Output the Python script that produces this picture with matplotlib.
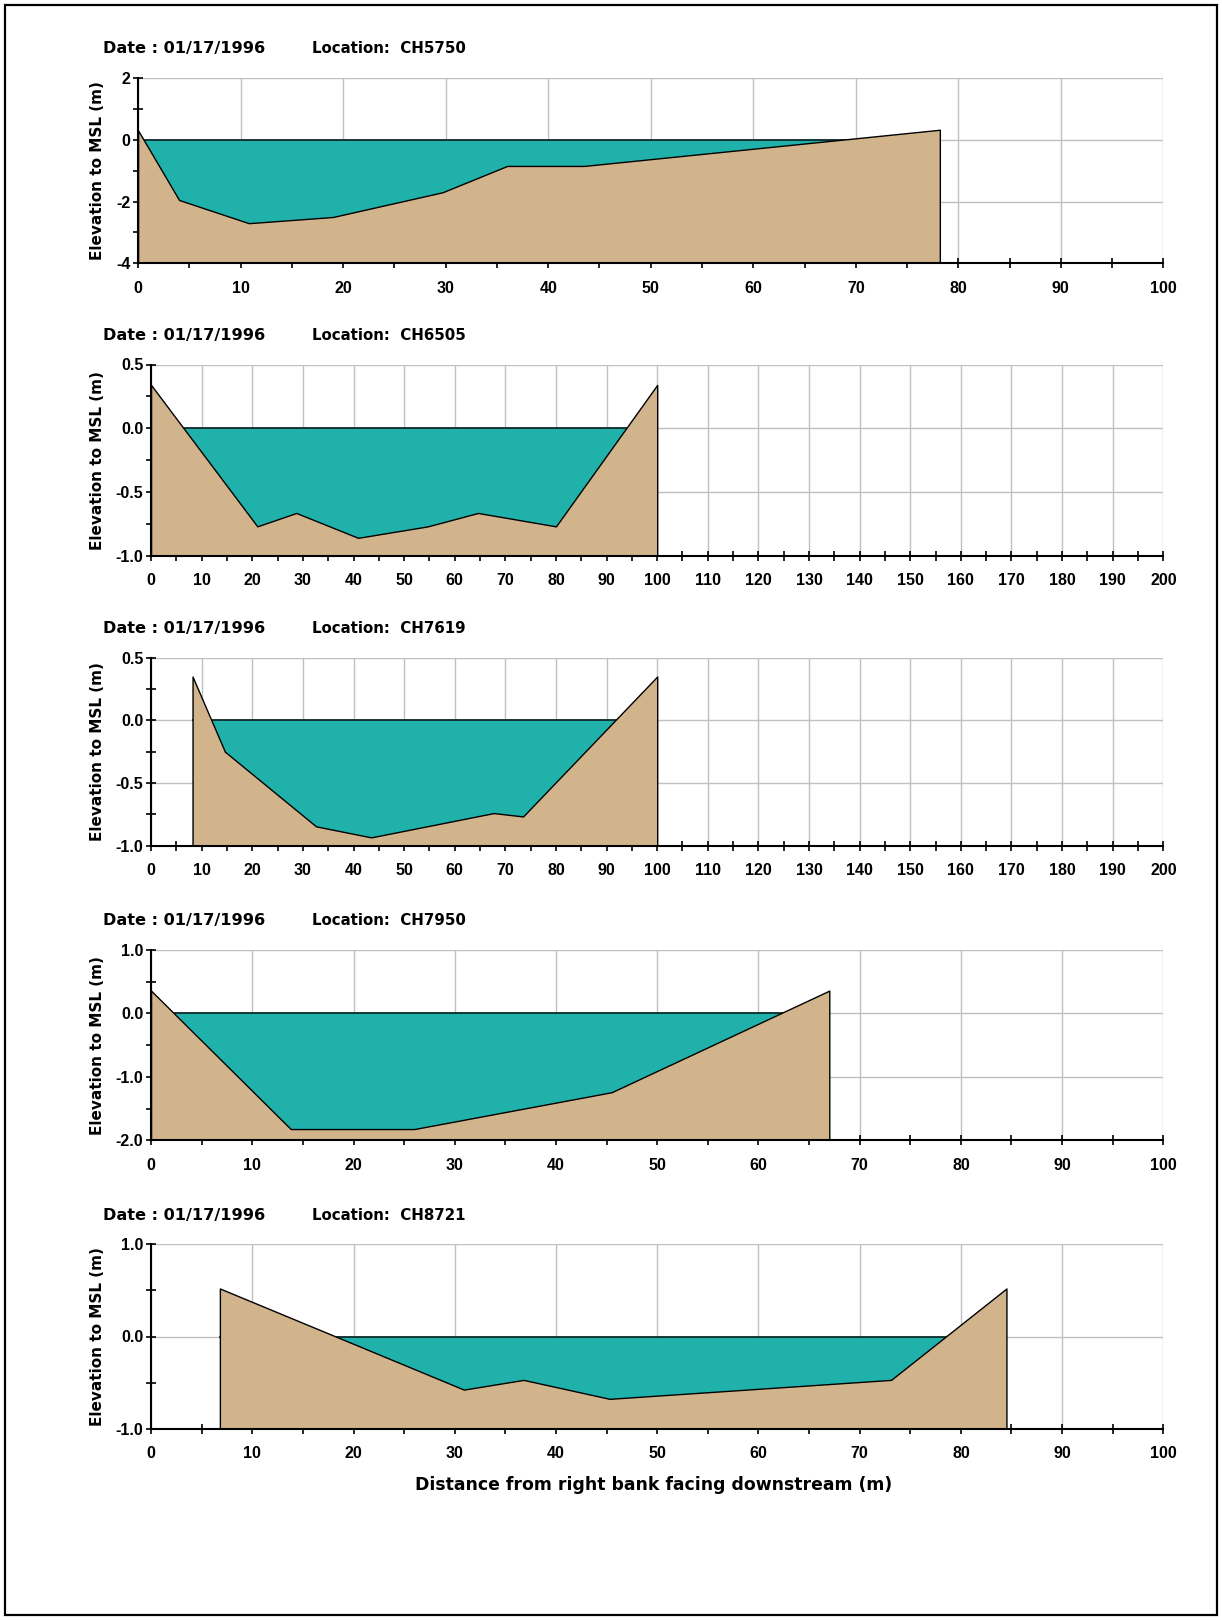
import matplotlib
matplotlib.use('Agg')
import matplotlib.pyplot as plt
import numpy as np
from matplotlib.patches import Rectangle
from matplotlib.ticker import MultipleLocator, FormatStrFormatter

plt.rcParams['font.family'] = ['Liberation Sans', 'DejaVu Sans']
plt.rcParams['font.weight'] = 'bold'

# Survey date, shared by all sections
survey_date = '01/17/1996'

# Cross-section locations
locations = ['CH5750', 'CH6505', 'CH7619', 'CH7950', 'CH8721']

# Bed profiles: distance (m) and elevation to MSL (m)
x_5750 = [0, 4, 10.8, 19, 29.7, 36, 43.5, 78.2]
z_5750 = [0.3, -1.95, -2.7, -2.5, -1.7, -0.85, -0.85, 0.32]

x_6505 = [0, 21, 28.7, 40.9, 54.7, 64.6, 80, 100]
z_6505 = [0.34, -0.77, -0.665, -0.86, -0.77, -0.665, -0.77, 0.34]

x_7619 = [8.2, 14.6, 32.6, 43.5, 67.7, 73.5, 100]
z_7619 = [0.35, -0.25, -0.846, -0.934, -0.74, -0.767, 0.35]

x_7950 = [0, 13.8, 26.0, 45.5, 67.0]
z_7950 = [0.36, -1.82, -1.82, -1.24, 0.36]

x_8721 = [6.8, 30.9, 36.8, 45.3, 73.1, 84.5]
z_8721 = [0.52, -0.575, -0.47, -0.675, -0.47, 0.52]

water_level = 0.0

# axis settings per panel
xmax_list = [100, 200, 200, 100, 100]
ylim_list = [(-4, 2), (-1, 0.5), (-1, 0.5), (-2, 1), (-1, 1)]
ymajor_list = [2, 0.5, 0.5, 1, 1]
yminor_list = [1, 0.25, 0.25, 0.5, 0.5]
yfmt_list = ['%d', '%.1f', '%.1f', '%.1f', '%.1f']

profiles = [(x_5750, z_5750), (x_6505, z_6505), (x_7619, z_7619),
            (x_7950, z_7950), (x_8721, z_8721)]

W, H = 1222, 1620
fig = plt.figure(figsize=(W / 100, H / 100), dpi=100)

# panel boxes in figure fraction: left, bottom, width, height
boxes = [
    (0.113, 0.8374, 0.839, 0.1146),
    (0.1236, 0.657, 0.8284, 0.118),
    (0.1236, 0.478, 0.8284, 0.116),
    (0.1236, 0.296, 0.8284, 0.1176),
    (0.1236, 0.118, 0.8284, 0.114),
]

water_color = '#20B2AA'
ground_color = '#D2B48C'
grid_color = '#C0C0C0'
label_font = ['DejaVu Sans']

for i, (box, (xg, zg)) in enumerate(zip(boxes, profiles)):
    ax = fig.add_axes(box)
    ymin, ymax = ylim_list[i]
    xg = np.array(xg)
    zg = np.array(zg)

    # water (covered by ground where the bed is above water level)
    ax.fill_between(xg, water_level, ymin, color=water_color, lw=0, zorder=2)
    ax.plot([xg[0], xg[-1]], [water_level, water_level], color='#0a2a28',
            lw=1.3, zorder=2.1)
    # ground
    ax.fill_between(xg, zg, ymin, facecolor=ground_color, edgecolor='black',
                    lw=1.0, zorder=3)

    ax.set_xlim(0, xmax_list[i])
    ax.set_ylim(ymin, ymax)
    ax.xaxis.set_major_locator(MultipleLocator(10))
    ax.xaxis.set_minor_locator(MultipleLocator(5))
    ax.yaxis.set_major_locator(MultipleLocator(ymajor_list[i]))
    ax.yaxis.set_minor_locator(MultipleLocator(yminor_list[i]))
    ax.yaxis.set_major_formatter(FormatStrFormatter(yfmt_list[i]))

    ax.grid(True, which='major', color=grid_color, lw=1.0)
    ax.set_axisbelow(True)
    for s in ['top', 'right']:
        ax.spines[s].set_visible(False)
    for s in ['left', 'bottom']:
        ax.spines[s].set_linewidth(1.5)
        ax.spines[s].set_zorder(4)

    ax.tick_params(axis='x', which='both', direction='inout', length=7,
                   width=1.2, pad=9, labelsize=11.5)
    ax.tick_params(axis='y', which='both', direction='inout', length=7,
                   width=1.2, pad=2, labelsize=11.5)
    for lab in ax.get_xticklabels() + ax.get_yticklabels():
        lab.set_fontweight('bold')

    left, bottom, width, height = box
    top = bottom + height
    fig.text(103 / W, top + 29 / H, 'Date : ' + survey_date, fontsize=11.6,
             fontweight='bold', family=label_font, ha='left', va='center')
    fig.text(312 / W, top + 29 / H, 'Location:  ' + locations[i],
             fontsize=10.8, fontweight='bold', family=label_font,
             ha='left', va='center')
    fig.text(97 / W, bottom + height / 2, 'Elevation to MSL (m)', fontsize=11,
             fontweight='bold', family=label_font, rotation=90,
             ha='center', va='center')

fig.text(0.535, 0.0832, 'Distance from right bank facing downstream (m)',
         fontsize=12.4, fontweight='bold', family=label_font,
         ha='center', va='center')

# outer border
fig.add_artist(Rectangle((5 / W, 5 / H), 1 - 10 / W, 1 - 10 / H,
                         transform=fig.transFigure, fill=False,
                         edgecolor='black', lw=1.6))

fig.savefig('out.png', dpi=100, facecolor='white')
